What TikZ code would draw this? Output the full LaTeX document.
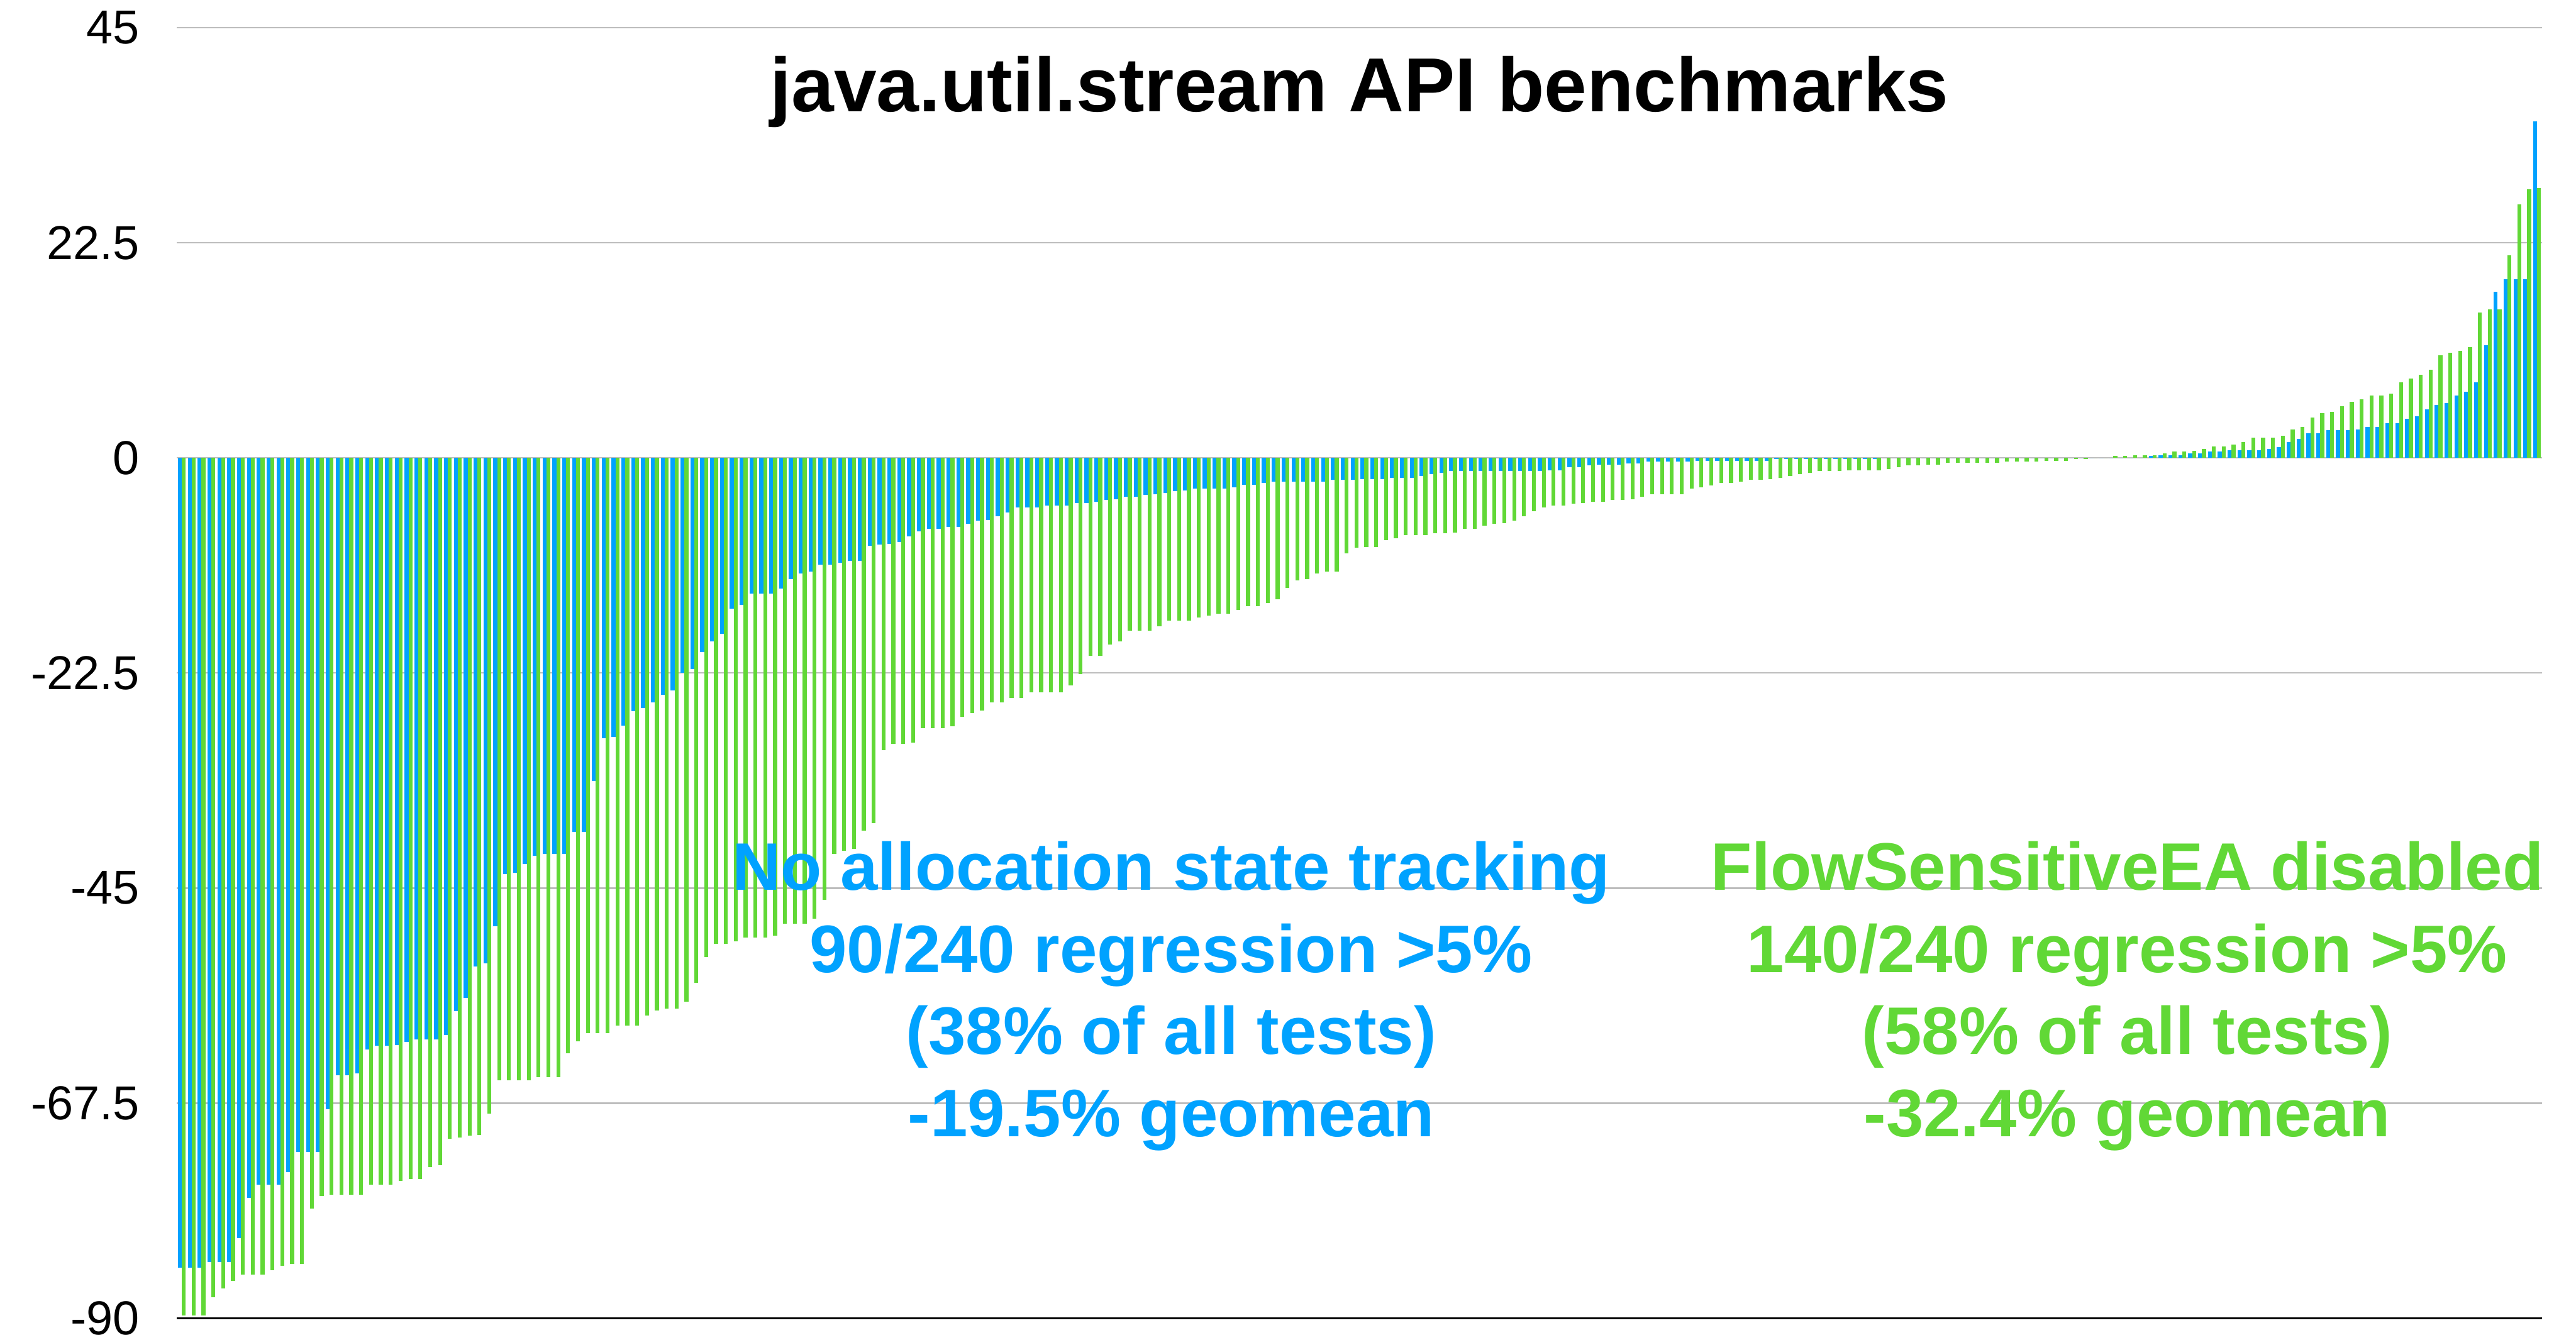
\documentclass[tikz,border=0pt]{standalone}
\usepackage{fontspec}
\setmainfont{Liberation Sans}

\definecolor{keyblue}{HTML}{00A2FF}
\definecolor{keygreen}{HTML}{61D836}
\definecolor{gridgray}{HTML}{BDBDBD}

% per benchmark change in %, sorted as on the slide
\def\bluedata{-84.7,-84.7,-84.7,-84.1,-84.1,-84.1,-81.6,-77.4,-76.0,-76.0,
  -76.0,-74.7,-72.6,-72.6,-72.6,-68.1,-64.6,-64.6,-64.4,-61.9,
  -61.5,-61.5,-61.4,-61.1,-60.8,-60.8,-60.8,-60.4,-57.9,-56.5,
  -53.2,-52.9,-49.0,-43.5,-43.4,-42.5,-41.6,-41.4,-41.4,-41.4,
  -39.1,-39.1,-33.8,-29.3,-29.2,-28.0,-26.5,-26.2,-25.6,-24.8,
  -24.3,-22.5,-22.1,-20.3,-19.2,-18.4,-15.8,-15.4,-14.2,-14.2,
  -14.2,-13.7,-12.7,-12.1,-11.9,-11.2,-11.2,-11.0,-10.8,-10.8,
  -9.2,-9.1,-9.0,-8.8,-8.2,-7.7,-7.4,-7.4,-7.2,-7.2,
  -6.9,-6.6,-6.5,-6.1,-5.7,-5.2,-5.2,-5.2,-5.0,-5.0,
  -5.0,-4.7,-4.7,-4.6,-4.4,-4.3,-4.1,-4.1,-3.9,-3.8,
  -3.7,-3.5,-3.4,-3.2,-3.2,-3.2,-3.2,-3.1,-2.8,-2.8,
  -2.6,-2.5,-2.5,-2.5,-2.5,-2.5,-2.5,-2.3,-2.3,-2.3,
  -2.2,-2.2,-2.2,-2.1,-2.1,-2.1,-1.9,-1.7,-1.6,-1.4,
  -1.4,-1.4,-1.4,-1.4,-1.4,-1.4,-1.4,-1.4,-1.4,-1.3,
  -1.3,-1.0,-1.0,-0.8,-0.7,-0.7,-0.7,-0.6,-0.6,-0.4,
  -0.4,-0.4,-0.4,-0.4,-0.3,-0.3,-0.3,-0.3,-0.3,-0.3,
  -0.3,-0.3,-0.1,-0.1,-0.1,-0.1,-0.1,-0.1,-0.1,-0.1,
  -0.1,-0.1,-0.1,0,0,0,0,0,0,0,
  0,0,0,0,0,0,0,0,0,0,
  0,0,0,0,0,0,0,0,0,0,
  0.2,0.3,0.3,0.3,0.5,0.5,0.65,0.65,0.77,0.77,
  0.77,0.77,0.94,1.1,1.66,2.0,2.55,2.55,2.9,2.9,
  2.9,3.0,3.2,3.2,3.6,3.6,4.07,4.34,5.1,5.56,
  5.7,6.55,6.9,7.9,11.8,17.4,18.7,18.7,18.7,35.2}
\def\greendata{-89.7,-89.7,-89.7,-87.8,-86.9,-86.1,-85.4,-85.4,-85.4,-85.0,
  -84.5,-84.3,-84.3,-78.5,-77.2,-77.1,-77.1,-77.1,-77.1,-76.0,
  -76.0,-76.0,-75.6,-75.4,-75.4,-74.2,-74.0,-71.2,-71.1,-70.9,
  -70.8,-68.6,-65.1,-65.1,-65.1,-65.1,-64.8,-64.8,-64.8,-62.3,
  -61.0,-60.2,-60.2,-60.2,-59.4,-59.4,-59.4,-58.3,-57.8,-57.6,
  -57.6,-56.9,-54.9,-52.2,-50.8,-50.8,-50.6,-50.2,-50.2,-50.2,
  -50.0,-48.7,-48.7,-48.7,-48.2,-46.2,-41.4,-41.1,-40.9,-39.0,
  -38.2,-30.6,-29.9,-29.9,-29.8,-28.3,-28.3,-28.3,-28.1,-27.1,
  -26.7,-26.4,-25.6,-25.6,-25.1,-25.1,-24.5,-24.5,-24.5,-24.5,
  -23.8,-22.6,-20.7,-20.7,-19.5,-19.2,-18.1,-18.1,-18.1,-17.6,
  -17.0,-17.0,-17.0,-16.7,-16.5,-16.3,-16.3,-15.9,-15.5,-15.5,
  -15.2,-14.8,-13.6,-12.8,-12.7,-12.1,-11.9,-11.9,-10.0,-9.4,
  -9.3,-9.3,-8.6,-8.4,-8.1,-8.1,-8.1,-7.9,-7.9,-7.8,
  -7.4,-7.4,-7.1,-6.9,-6.8,-6.6,-6.1,-5.6,-5.2,-5.0,
  -5.0,-4.8,-4.7,-4.6,-4.6,-4.4,-4.4,-4.3,-4.1,-3.8,
  -3.8,-3.8,-3.8,-3.2,-3.1,-2.9,-2.6,-2.6,-2.5,-2.3,
  -2.3,-2.2,-2.1,-1.9,-1.7,-1.6,-1.4,-1.4,-1.4,-1.3,
  -1.3,-1.3,-1.3,-1.2,-1.0,-0.8,-0.8,-0.7,-0.7,-0.55,
  -0.55,-0.55,-0.55,-0.55,-0.55,-0.4,-0.4,-0.4,-0.4,-0.3,
  -0.3,-0.3,-0.15,-0.15,0,0,0.2,0.2,0.3,0.3,
  0.3,0.5,0.65,0.65,0.76,0.93,1.2,1.2,1.37,1.65,
  2.1,2.1,2.1,2.3,3.0,3.2,4.2,4.67,4.8,5.4,
  5.83,6.13,6.55,6.55,6.7,7.9,8.3,8.7,9.2,10.7,
  11.0,11.2,11.6,15.2,15.5,15.5,21.2,26.5,28.1,28.2}

\begin{document}
\begin{tikzpicture}[x=0.1855cm, y=0.18cm,
    gridline/.style={gridgray, line width=0.8pt},
    ticklabel/.style={anchor=east, inner sep=0pt, font=\fontsize{25.5}{30}\selectfont},
    headline/.style={anchor=base, inner sep=0pt, font=\fontsize{41}{48}\selectfont\bfseries},
    noteline/.style={anchor=base, inner sep=0pt, font=\fontsize{36}{44}\selectfont\bfseries}]
    \useasboundingbox (-17.95,-92.22) rectangle (243.45,47.89);

    % grid and scale
    \foreach \v [count=\k] in {45,22.5,0,-22.5,-45,-67.5} {
        \draw[gridline] (0,\v) -- (240,\v);
        \node[ticklabel] (tick\k) at (-3.77,\v) {\v};
    }
    \node[ticklabel] (tick7) at (-3.77,-90) {-90};

    % bars, one pair per benchmark
    \foreach \v [count=\i from 0] in \bluedata {
        \fill[keyblue] (\i+0.1,0) rectangle (\i+0.5,\v);
    }
    \foreach \v [count=\i from 0] in \greendata {
        \fill[keygreen] (\i+0.5,0) rectangle (\i+0.9,\v);
    }
    \draw[black, line width=0.9pt] (0,-90) -- (240,-90);

    \node[headline] (Title) at (120,36.2) {java.util.stream API benchmarks};

    \node[noteline, keyblue] (BlueHead)  at (100.9,-45.2) {No allocation state tracking};
    \node[noteline, keyblue] (BlueCount) at (100.9,-53.8) {90/240 regression >5\%};
    \node[noteline, keyblue] (BlueShare) at (100.9,-62.4) {(38\% of all tests)};
    \node[noteline, keyblue] (BlueMean)  at (100.9,-71.0) {-19.5\% geomean};

    \node[noteline, keygreen] (GreenHead)  at (197.9,-45.2) {FlowSensitiveEA disabled};
    \node[noteline, keygreen] (GreenCount) at (197.9,-53.8) {140/240 regression >5\%};
    \node[noteline, keygreen] (GreenShare) at (197.9,-62.4) {(58\% of all tests)};
    \node[noteline, keygreen] (GreenMean)  at (197.9,-71.0) {-32.4\% geomean};
\end{tikzpicture}
\end{document}
